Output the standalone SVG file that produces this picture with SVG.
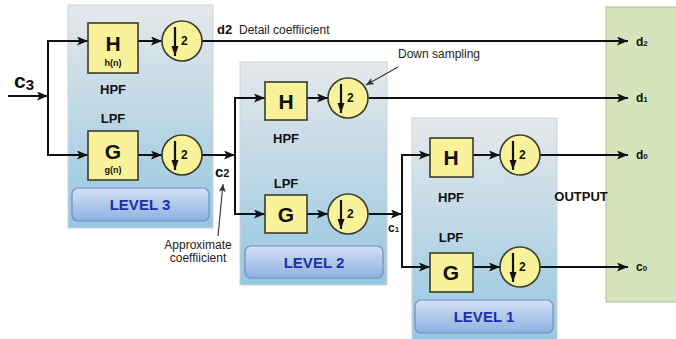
<svg xmlns="http://www.w3.org/2000/svg" width="676" height="339" viewBox="0 0 676 339">
<style>
.panel{fill:url(#pg);stroke:#c9d3da;stroke-width:1}
.btn{fill:url(#bg);stroke:#6f8fc4;stroke-width:1.2}
.btxt{font-family:"Liberation Sans",Arial,sans-serif;font-weight:bold;font-size:15px;fill:#1b2fa8;text-anchor:middle}
.box{fill:#f8f29a;stroke:#3a3a2a;stroke-width:1.6}
.circ{fill:#f8f29a;stroke:#3a3a2a;stroke-width:1.6}
.big{font-family:"Liberation Sans",Arial,sans-serif;font-weight:bold;font-size:21px;fill:#111;text-anchor:middle}
.small{font-family:"Liberation Sans",Arial,sans-serif;font-weight:bold;font-size:9px;fill:#111;text-anchor:middle}
.lab{font-family:"Liberation Sans",Arial,sans-serif;font-weight:bold;font-size:13px;fill:#111;text-anchor:middle}
.note{font-family:"Liberation Sans",Arial,sans-serif;font-size:12px;fill:#222}
.b{font-family:"Liberation Sans",Arial,sans-serif;font-weight:bold;fill:#111}
.two{font-family:"Liberation Sans",Arial,sans-serif;font-weight:bold;font-size:12px;fill:#111}
.wire{fill:none;stroke:#111;stroke-width:2;marker-end:url(#ah)}
.plain{fill:none;stroke:#111;stroke-width:2}
.thin{fill:none;stroke:#333;stroke-width:1.1;marker-end:url(#ahs)}
.dn{fill:none;stroke:#111;stroke-width:2.2;marker-end:url(#ahd)}
</style>
<defs>
<linearGradient id="pg" x1="0" y1="0" x2="0" y2="1">
<stop offset="0" stop-color="#e5e8ea"/>
<stop offset="1" stop-color="#95c7e1"/>
</linearGradient>
<linearGradient id="bg" x1="0" y1="0" x2="0" y2="1">
<stop offset="0" stop-color="#d3e0f4"/>
<stop offset="1" stop-color="#8eb1e2"/>
</linearGradient>
<marker id="ah" markerUnits="userSpaceOnUse" markerWidth="12" markerHeight="10" refX="11" refY="4.5" orient="auto">
<path d="M0,0 L11,4.5 L0,9 L2.5,4.5 z" fill="#111"/>
</marker>
<marker id="ahs" markerUnits="userSpaceOnUse" markerWidth="10" markerHeight="8" refX="8" refY="3.5" orient="auto">
<path d="M0,0 L8,3.5 L0,7 L2,3.5 z" fill="#333"/>
</marker>
<marker id="ahd" markerUnits="userSpaceOnUse" markerWidth="12" markerHeight="10" refX="10" refY="3.5" orient="auto">
<path d="M0,0 L10,3.5 L0,7 z" fill="#111"/>
</marker>
</defs>

<rect width="676" height="339" fill="#ffffff"/>

<g id="output">
<rect x="606" y="7" width="76" height="295" fill="#d6e4bb" stroke="#b3b8a6" stroke-width="1"/>
<text class="b" x="636" y="46" font-size="12">d<tspan font-size="8">2</tspan></text>
<text class="b" x="636" y="102" font-size="12">d<tspan font-size="8">1</tspan></text>
<text class="b" x="636" y="159" font-size="12">d<tspan font-size="8">0</tspan></text>
<text class="b" x="636" y="271" font-size="12">c<tspan font-size="8">0</tspan></text>
</g>

<g id="level3">
<rect class="panel" x="68" y="5" width="145" height="223"/>
<rect class="btn" x="72" y="188" width="137" height="33" rx="6"/>
<text class="btxt" x="140" y="210">LEVEL 3</text>
</g>
<g id="level2">
<rect class="panel" x="240" y="62" width="147" height="223"/>
<rect class="btn" x="245" y="246" width="138" height="32" rx="6"/>
<text class="btxt" x="314" y="268">LEVEL 2</text>
</g>
<g id="level1">
<rect class="panel" x="412" y="118" width="145" height="225"/>
<rect class="btn" x="415" y="300" width="138" height="33" rx="6"/>
<text class="btxt" x="484" y="322">LEVEL 1</text>
</g>

<g id="connectors">
<path class="wire" d="M8,96 H48"/>
<path class="plain" d="M48,41 V155"/>
<path class="wire" d="M47,41 H88"/>
<path class="wire" d="M47,155 H88"/>
<path class="wire" d="M138,41 H162"/>
<path class="wire" d="M138,155 H162"/>
<path class="wire" d="M202,41 H628"/>
<path class="wire" d="M202,155 H235"/>
<path class="plain" d="M235,98 V214"/>
<path class="wire" d="M234,98 H265"/>
<path class="wire" d="M234,214 H265"/>
<path class="wire" d="M307,98 H328"/>
<path class="wire" d="M307,214 H328"/>
<path class="wire" d="M369,98 H628"/>
<path class="wire" d="M369,214 H402"/>
<path class="plain" d="M402,155 V267"/>
<path class="wire" d="M401,155 H430"/>
<path class="wire" d="M401,267 H430"/>
<path class="wire" d="M473,155 H500"/>
<path class="wire" d="M473,267 H500"/>
<path class="wire" d="M540,155 H628"/>
<path class="wire" d="M540,267 H628"/>
<path class="thin" d="M398,67 L366,85"/>
<path class="thin" d="M218,236 L223,184"/>
</g>

<g id="h3">
<rect class="box" x="88" y="23" width="50" height="50"/>
<text class="big" x="113" y="51">H</text>
<text class="small" x="113" y="66">h(n)</text>
</g>
<g id="g3">
<rect class="box" x="88" y="131" width="50" height="49"/>
<text class="big" x="113" y="159">G</text>
<text class="small" x="113" y="173" font-size="10">g(n)</text>
</g>
<g id="ds3h">
<circle class="circ" cx="182" cy="41" r="20"/>
<path class="dn" d="M175,27 V56"/>
<text class="two" x="181" y="45">2</text>
</g>
<g id="ds3g">
<circle class="circ" cx="182" cy="155" r="20"/>
<path class="dn" d="M175,141 V170"/>
<text class="two" x="181" y="159">2</text>
</g>

<g id="h2">
<rect class="box" x="265" y="82" width="42" height="38"/>
<text class="big" x="286" y="109">H</text>
</g>
<g id="g2">
<rect class="box" x="265" y="195" width="42" height="38"/>
<text class="big" x="286" y="222">G</text>
</g>
<g id="ds2h">
<circle class="circ" cx="348" cy="98" r="20"/>
<path class="dn" d="M341,84 V113"/>
<text class="two" x="347" y="102">2</text>
</g>
<g id="ds2g">
<circle class="circ" cx="348" cy="214" r="20"/>
<path class="dn" d="M341,200 V229"/>
<text class="two" x="347" y="218">2</text>
</g>

<g id="h1">
<rect class="box" x="430" y="138" width="43" height="39"/>
<text class="big" x="451" y="165">H</text>
</g>
<g id="g1">
<rect class="box" x="430" y="253" width="43" height="39"/>
<text class="big" x="451" y="280">G</text>
</g>
<g id="ds1h">
<circle class="circ" cx="520" cy="155" r="20"/>
<path class="dn" d="M513,141 V170"/>
<text class="two" x="519" y="159">2</text>
</g>
<g id="ds1g">
<circle class="circ" cx="520" cy="267" r="20"/>
<path class="dn" d="M513,253 V282"/>
<text class="two" x="519" y="271">2</text>
</g>

<g id="labels">
<text class="b" x="14" y="88" font-size="21">c<tspan font-size="15" dy="2">3</tspan></text>
<text class="lab" x="113" y="94">HPF</text>
<text class="lab" x="113" y="123">LPF</text>
<text class="lab" x="286" y="143">HPF</text>
<text class="lab" x="286" y="188">LPF</text>
<text class="lab" x="451" y="202">HPF</text>
<text class="lab" x="451" y="242">LPF</text>
<text class="lab" x="581" y="201">OUTPUT</text>
<text class="b" x="217" y="34" font-size="13">d2</text>
<text class="note" x="239" y="34">Detail coeffiicient</text>
<text class="note" x="398" y="58">Down sampling</text>
<text class="b" x="215" y="177" font-size="15">c<tspan font-size="11">2</tspan></text>
<text class="b" x="388" y="232" font-size="12">c<tspan font-size="8">1</tspan></text>
<text class="note" x="198" y="249" text-anchor="middle">Approximate</text>
<text class="note" x="198" y="262" text-anchor="middle">coeffiicient</text>
</g>
</svg>
